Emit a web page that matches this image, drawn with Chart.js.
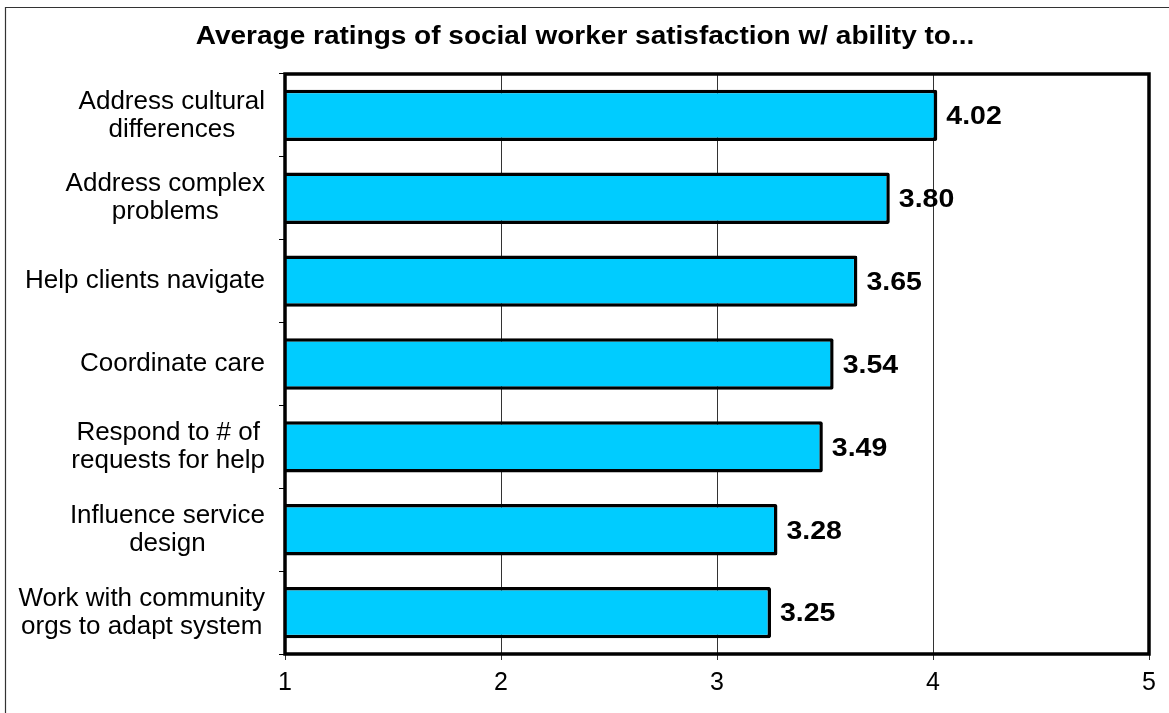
<!DOCTYPE html>
<html>
<head>
<meta charset="utf-8">
<script src="https://cdn.jsdelivr.net/npm/chart.js@4/dist/chart.umd.min.js"></script>
<style>
  html, body { margin: 0; padding: 0; background: #fff; }
  canvas { display: block; }
</style>
</head>
<body>
<canvas id="ratingsChart" width="1169" height="713"></canvas>
<script>
var chartTitle = "Average ratings of social worker satisfaction w/ ability to...";
var categories = [
	["Address cultural", "differences"],
	["Address complex", "problems"],
	["Help clients navigate"],
	["Coordinate care"],
	["Respond to # of", "requests for help"],
	["Influence service", "design"],
	["Work with community", "orgs to adapt system"],
];
var ratings = [4.02, 3.8, 3.65, 3.54, 3.49, 3.28, 3.25];
var xTicks = [1, 2, 3, 4, 5];

var FONT = "'Liberation Sans', Arial, sans-serif";

// page frame, heavy plot box and the title (text is a bit wide in the original)
var framePlugin = {
	id: "frame",
	afterDraw: function (chart) {
		var c = chart.ctx;
		var a = chart.chartArea;
		c.save();
		c.strokeStyle = "#333";
		c.lineWidth = 1.2;
		c.beginPath();
		c.moveTo(5.5, 713);
		c.lineTo(5.5, 7.5);
		c.lineTo(1169, 7.5);
		c.stroke();
		c.strokeStyle = "#000";
		c.lineWidth = 3.5;
		c.strokeRect(a.left, a.top, a.right - a.left, a.bottom - a.top);

		c.fillStyle = "#000";
		c.font = "bold 25px " + FONT;
		c.textAlign = "center";
		c.textBaseline = "middle";
		c.translate(585, 37);
		c.scale(1.12, 1);
		c.fillText(chartTitle, 0, 0);
		c.restore();
	},
};

// category labels: block right-aligned to the axis, lines centred within the block
var categoryLabels = {
	id: "categoryLabels",
	afterDraw: function (chart) {
		var c = chart.ctx;
		var yScale = chart.scales.y;
		var lineH = 28;
		c.save();
		c.font = "26px " + FONT;
		c.fillStyle = "#000";
		c.textAlign = "center";
		c.textBaseline = "middle";
		categories.forEach(function (lines, i) {
			var y = yScale.getPixelForTick(i);
			var w = Math.max.apply(null, lines.map(function (l) { return c.measureText(l).width; }));
			var cx = yScale.right - 20 - w / 2;
			var y0 = y - ((lines.length - 1) * lineH) / 2;
			lines.forEach(function (l, k) {
				c.fillText(l, cx, y0 + k * lineH);
			});
		});
		c.restore();
	},
};

// bold value next to each bar end
var valueLabels = {
	id: "valueLabels",
	afterDatasetsDraw: function (chart) {
		var c = chart.ctx;
		var meta = chart.getDatasetMeta(0);
		meta.data.forEach(function (bar, i) {
			c.save();
			c.font = "bold 25px " + FONT;
			c.fillStyle = "#000";
			c.textAlign = "left";
			c.textBaseline = "middle";
			c.translate(bar.x + 9, bar.y + 2);
			c.scale(1.14, 1);
			c.fillText(ratings[i].toFixed(2), 0, 0);
			c.restore();
		});
	},
};

var ctx = document.getElementById("ratingsChart").getContext("2d");
new Chart(ctx, {
	type: "bar",
	data: {
		labels: categories,
		datasets: [
			{
				data: ratings,
				backgroundColor: "#00CCFF",
				borderColor: "#000",
				borderWidth: 3.5,
				borderSkipped: false,
				borderRadius: 2,
				categoryPercentage: 1,
				barPercentage: 0.62,
			},
		],
	},
	options: {
		indexAxis: "y",
		responsive: false,
		animation: false,
		layout: { padding: { left: 0, right: 20, top: 74, bottom: 0 } },
		plugins: {
			legend: { display: false },
			tooltip: { enabled: false },
			title: { display: false },
		},
		scales: {
			x: {
				min: 1,
				max: 5,
				afterBuildTicks: function (scale) {
					scale.ticks = xTicks.map(function (v) { return { value: v }; });
				},
				afterFit: function (scale) { scale.height = 59; },
				grid: { color: "#333", lineWidth: 1, tickLength: 6, drawOnChartArea: true },
				border: { display: false },
				ticks: {
					color: "#000",
					padding: 8,
					font: { family: FONT, size: 25 },
				},
			},
			y: {
				afterFit: function (scale) { scale.width = 285; },
				grid: { offset: true, drawOnChartArea: false, color: "#000", tickLength: 6 },
				border: { display: false },
				ticks: { display: false },
			},
		},
	},
	plugins: [framePlugin, categoryLabels, valueLabels],
});
</script>
</body>
</html>
